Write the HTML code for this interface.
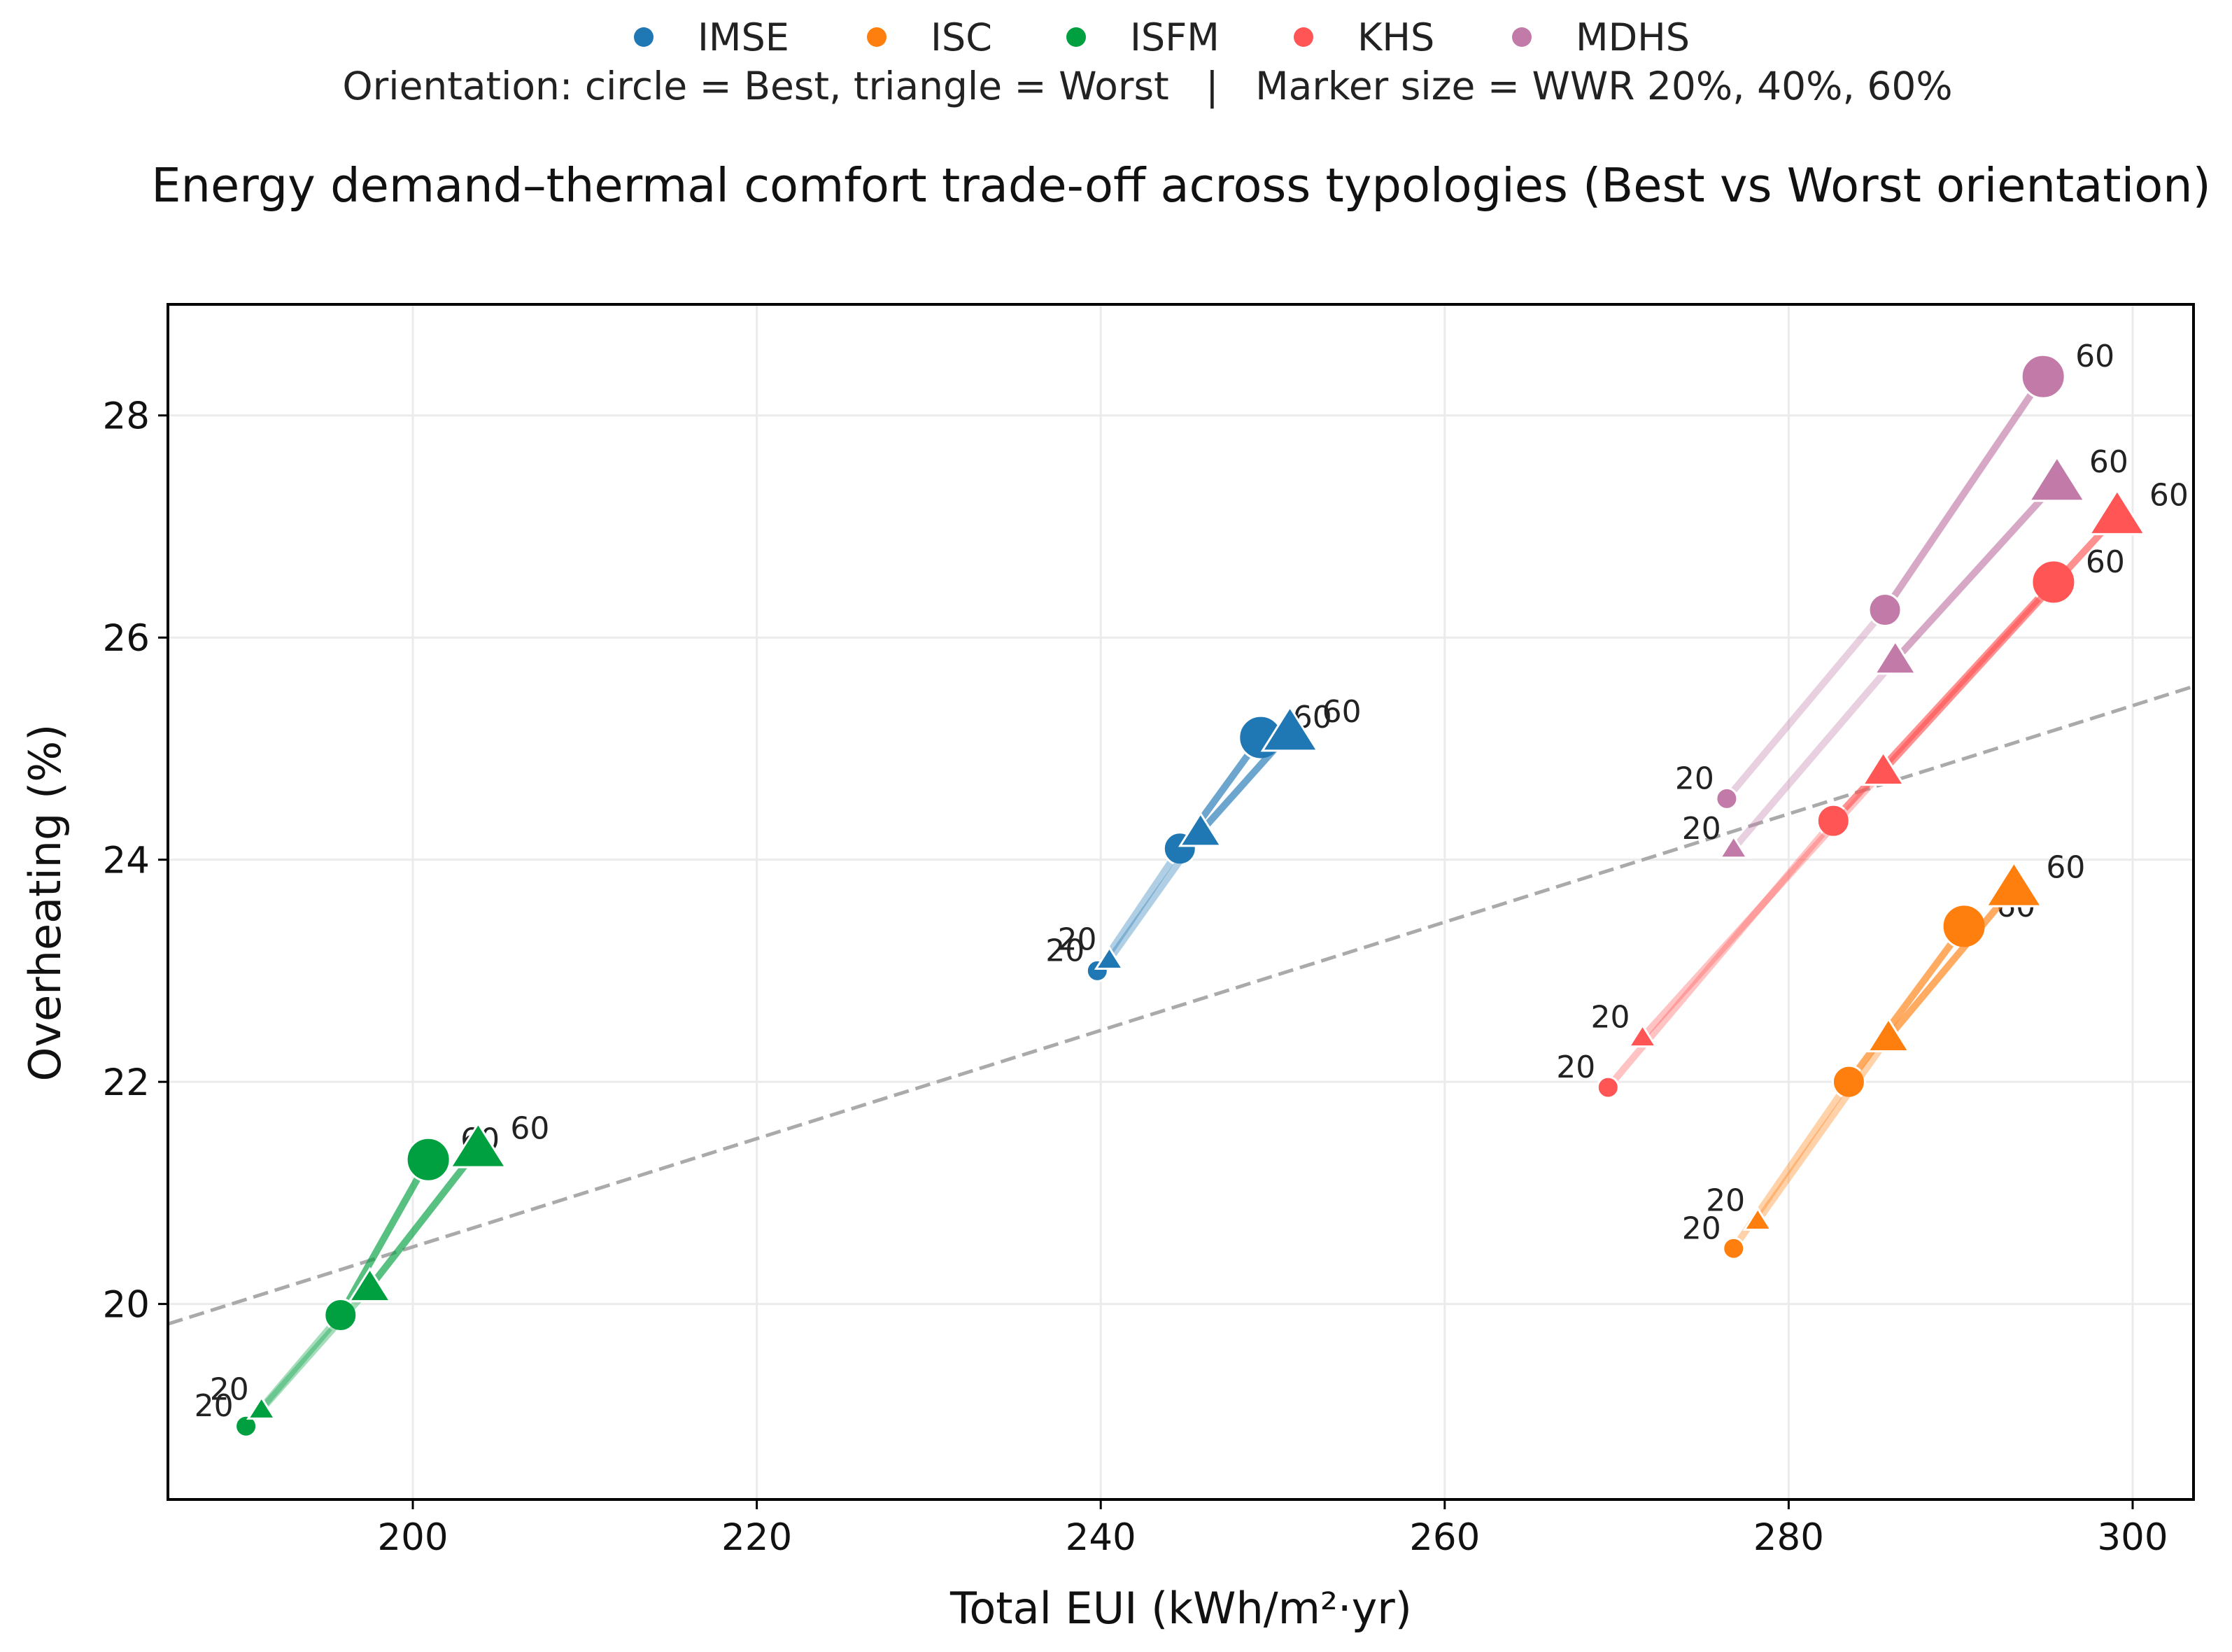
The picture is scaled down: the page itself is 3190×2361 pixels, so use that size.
<!DOCTYPE html>
<html><head><meta charset="utf-8"><style>
html,body{margin:0;padding:0;background:#fff;}
svg{display:block;font-family:"DejaVu Sans","Liberation Sans",sans-serif;}
</style></head><body>
<svg id="chart" width="3190" height="2361" viewBox="0 0 3190 2361" xmlns="http://www.w3.org/2000/svg">
<rect width="3190" height="2361" fill="#fff"/>
<g id="legend"></g>
<text x="1640" y="142" font-size="55" text-anchor="middle" fill="#222" style="white-space:pre" xml:space="preserve">Orientation: circle = Best, triangle = Worst   |   Marker size = WWR 20%, 40%, 60%</text>
<text x="1688" y="288" font-size="67" text-anchor="middle" fill="#111">Energy demand–thermal comfort trade-off across typologies (Best vs Worst orientation)</text>
<g id="grid"></g>
<g id="plot"></g>
<rect x="240" y="435" width="2895" height="1708" fill="none" stroke="#000" stroke-width="4"/>
<g id="ticks"></g>
<text x="1688" y="2320" font-size="62" text-anchor="middle" fill="#111">Total EUI (kWh/m²·yr)</text>
<text x="86" y="1290" font-size="62" text-anchor="middle" fill="#111" transform="rotate(-90 86 1290)">Overheating (%)</text>
</svg>
<script>
const typologies = ["IMSE","ISC","ISFM","KHS","MDHS"];
const colors = ["#1f77b4","#ff7f0e","#00a040","#ff5555","#c27aa8"];
const wwr = [20,40,60];
const bestEUI = [[239.8,244.6,249.3],[276.8,283.5,290.2],[190.3,195.8,200.9],[269.5,282.6,295.4],[276.4,285.6,294.8]];
const bestOH  = [[23.0,24.1,25.1],[20.5,22.0,23.4],[18.9,19.9,21.3],[21.95,24.35,26.5],[24.55,26.25,28.35]];
const worstEUI = [[240.5,245.8,251.0],[278.2,285.8,293.1],[191.2,197.5,203.8],[271.5,285.5,299.1],[276.8,286.2,295.6]];
const worstOH  = [[23.1,24.25,25.15],[20.75,22.4,23.75],[19.05,20.15,21.4],[22.4,24.8,27.1],[24.1,25.8,27.4]];
const xTicks = [200,220,240,260,280,300];
const yTicks = [20,22,24,26,28];
const trendX = [185.76,303.54];
const trendY = [19.82,25.56];

const X0=240,X1=3135,Y0=435,Y1=2143,xmin=185.76,xmax=303.54,ymin=18.24,ymax=29.0;
function sx(v){return X0+(v-xmin)/(xmax-xmin)*(X1-X0);}
function sy(v){return Y1-(v-ymin)/(ymax-ymin)*(Y1-Y0);}
const NS="http://www.w3.org/2000/svg";
function mk(tag,attrs,parent){const e=document.createElementNS(NS,tag);for(const k in attrs)e.setAttribute(k,attrs[k]);parent.appendChild(e);return e;}
const grid=document.getElementById('grid'),plot=document.getElementById('plot'),ticks=document.getElementById('ticks'),legend=document.getElementById('legend');

xTicks.forEach(t=>{
  const l=mk('line',{x1:sx(t),x2:sx(t),y1:Y0,y2:Y1,stroke:'#ebebeb','stroke-width':3},grid);
  
  
  const tk=mk('line',{x1:sx(t),x2:sx(t),y1:Y1,y2:Y1+14,stroke:'#000','stroke-width':3},ticks);
  
  
  const tx=mk('text',{x:sx(t),y:Y1+72,'font-size':53,'text-anchor':'middle',fill:'#111'},ticks);
  tx.textContent=t;
  
  
});
yTicks.forEach(t=>{
  const l=mk('line',{x1:X0,x2:X1,y1:sy(t),y2:sy(t),stroke:'#ebebeb','stroke-width':3},grid);
  
  
  const tk=mk('line',{x1:X0-14,x2:X0,y1:sy(t),y2:sy(t),stroke:'#000','stroke-width':3},ticks);
  
  
  const tx=mk('text',{x:X0-26,y:sy(t)+19,'font-size':53,'text-anchor':'end',fill:'#111'},ticks);
  tx.textContent=t;
  
  
});

const trend=mk('line',{x1:sx(trendX[0]),y1:sy(trendY[0]),x2:sx(trendX[1]),y2:sy(trendY[1]),stroke:'#aaaaaa','stroke-width':5,'stroke-dasharray':'22 10'},plot);



const radii=[15,23,31];
function marker(type,x,y,i,c){
  const r=radii[i];
  let e;
  if(type==='best'){e=mk('circle',{cx:x,cy:y,r:r,fill:c,stroke:'#fff','stroke-width':3},plot);}
  else{const h=r*1.15;e=mk('polygon',{points:`${x},${y-h} ${x-h*1.1},${y+h*0.75} ${x+h*1.1},${y+h*0.75}`,fill:c,stroke:'#fff','stroke-width':3},plot);}
  return e;
}
function series(type,xs,ys,c){
  for(let i=0;i<2;i++){
    const l=mk('line',{x1:sx(xs[i]),y1:sy(ys[i]),x2:sx(xs[i+1]),y2:sy(ys[i+1]),stroke:c,'stroke-width':10,'stroke-linecap':'round',opacity:i===0?0.35:0.65},plot);
    
    
  }
  for(let i=0;i<3;i++){
    const m=marker(type,sx(xs[i]),sy(ys[i]),i,c);
    
    
  }
  const a=mk('text',{x:sx(xs[0])-18,y:sy(ys[0])-14,'font-size':44,'text-anchor':'end',fill:'#222'},plot);
  a.textContent=wwr[0];
  
  
  const b=mk('text',{x:sx(xs[2])+46,y:sy(ys[2])-14,'font-size':44,'text-anchor':'start',fill:'#222'},plot);
  b.textContent=wwr[2];
  
  
}
typologies.forEach((t,k)=>{
  series('best',bestEUI[k],bestOH[k],colors[k]);
  series('worst',worstEUI[k],worstOH[k],colors[k]);
});

const legX=[920,1253,1538,1863,2175];
typologies.forEach((t,k)=>{
  const c=mk('circle',{cx:legX[k],cy:53,r:14,fill:colors[k]},legend);
  
  
  const tx=mk('text',{x:legX[k]+77,y:72,'font-size':54,fill:'#222'},legend);
  tx.textContent=t;
  
  
});
</script>
</body></html>
